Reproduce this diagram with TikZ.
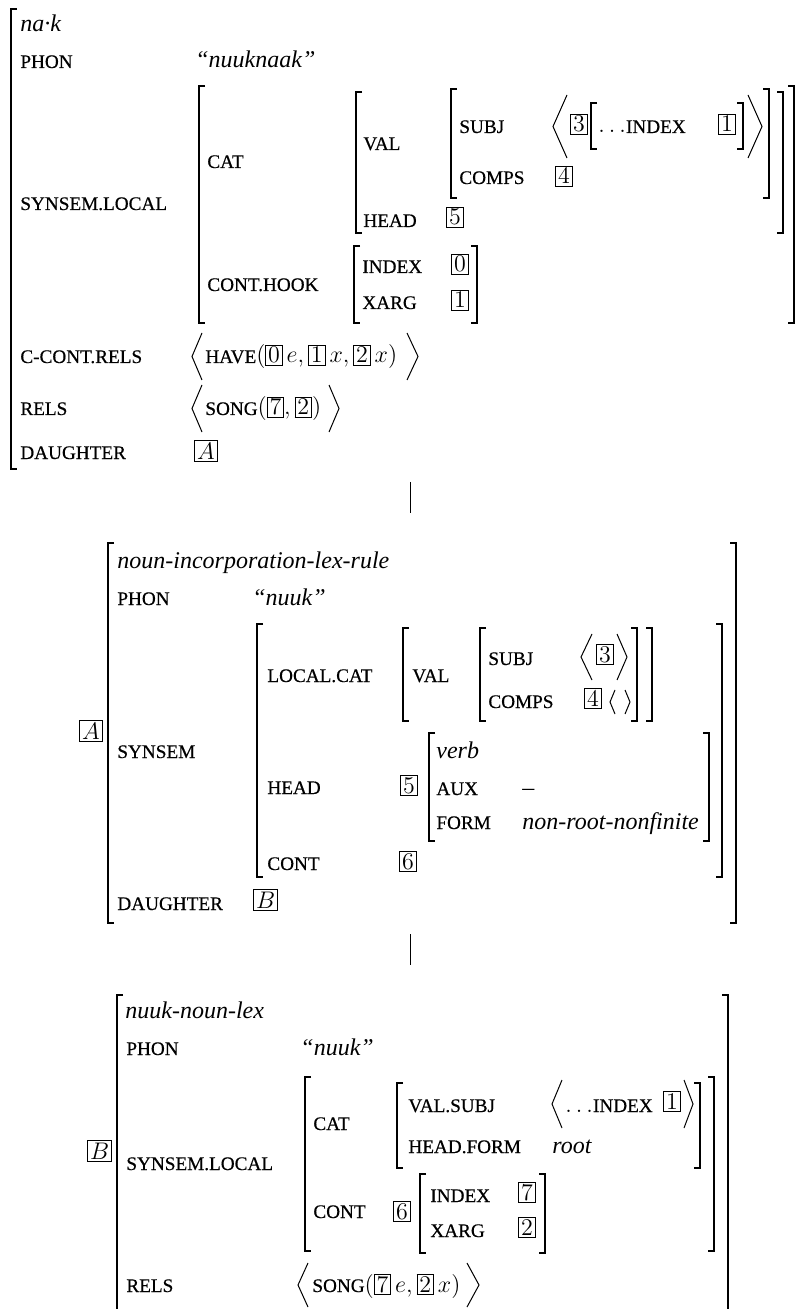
\documentclass[tikz,border=0pt]{standalone}
\usepackage[no-math]{fontspec}
\setmainfont{Liberation Serif}
\newfontfamily\lbfam{Liberation Serif}[FakeBold=0.5]
\setlength\fboxsep{1pt}\setlength\fboxrule{0.4pt}
\newcommand\lbfont{\lbfam\fontsize{9.6}{11}\selectfont}
\newcommand\lb[1]{{\lbfont #1}}
\newcommand\tg[1]{\fbox{$#1$}}
\newcommand\avmL[3]{\draw[brk] ({#1+6},#2) -- (#1,#2) -- (#1,#3) -- ({#1+6},#3);}
\newcommand\avmR[3]{\draw[brk] ({#1-6},#2) -- (#1,#2) -- (#1,#3) -- ({#1-6},#3);}
\newcommand\angl[4]{\draw[ang] (#2,#3) -- (#1,{(#3+#4)/2}) -- (#2,#4);}
\tikzset{
  brk/.style={line width=0.9pt},
  ang/.style={line width=0.5pt},
  conn/.style={line width=0.5pt},
  txt/.style={anchor=base west, inner sep=0pt, font=\fontsize{12}{14}\selectfont},
  it/.style={txt, font=\fontsize{12}{14}\selectfont\itshape},
  lbl/.style={anchor=base west, inner sep=0pt, font=\fontsize{12}{14}\selectfont\lbfont},
  tag/.style={anchor=base west, inner sep=0pt, font=\fontsize{12}{14}\selectfont},
}
\begin{document}
\begin{tikzpicture}[x=0.5pt,y=-0.5pt]
\useasboundingbox (0,0) rectangle (796,1309);
\clip (0,0) rectangle (796,1309);
% ================= AVM 1 =================
\avmL{11}{9}{469}
\node[it] (t1) at (20,32) {na·k};
\node[lbl] (p1) at (20,68) {PHON};
\node[it] (p1v) at (195,68) {“nuuknaak”};
\node[lbl] (s1) at (20,210) {SYNSEM.LOCAL};
\avmL{199}{86}{323} \avmR{794}{86}{323}
\node[lbl] (cat1) at (207,168) {CAT};
\avmL{356}{92}{233} \avmR{783}{92}{233}
\node[lbl] (val1) at (363,150) {VAL};
\avmL{451}{89}{198} \avmR{769}{89}{198}
\node[lbl] (subj1) at (459,133) {SUBJ};
\angl{553}{567}{95}{158}
\node[tag] (t3a) at (570,132) {\tg{3}};
\avmL{591}{103}{149} \avmR{743}{103}{149}
\node[txt] (idx1) at (598,133) {$\ldots$\lb{INDEX}};
\node[tag] (t1a) at (718,132) {\tg{1}};
\angl{762}{748}{95}{158}
\node[lbl] (comps1) at (459,184) {COMPS};
\node[tag] (t4a) at (555,184) {\tg{4}};
\node[lbl] (head1) at (363,227) {HEAD};
\node[tag] (t5a) at (446,225) {\tg{5}};
\node[lbl] (ch1) at (207,291) {CONT.HOOK};
\avmL{354}{246}{323} \avmR{477}{246}{323}
\node[lbl] (in1) at (362,273) {INDEX};
\node[tag] (t0a) at (451,272) {\tg{0}};
\node[lbl] (xa1) at (362,309) {XARG};
\node[tag] (t1b) at (451,308) {\tg{1}};
\node[lbl] (cc1) at (20,363) {C-CONT.RELS};
\angl{192}{202}{333}{380}
\node[txt] (have) at (205,363) {\lb{HAVE}$\big(\tg{0}\,e, \tg{1}\,x, \tg{2}\,x\big)$};
\angl{418}{407}{333}{380}
\node[lbl] (r1) at (20,415) {RELS};
\angl{192}{202}{385}{432}
\node[txt] (song1) at (205,415) {\lb{SONG}$\big(\tg{7}, \tg{2}\big)$};
\angl{339}{329}{385}{432}
\node[lbl] (d1) at (20,459) {DAUGHTER};
\node[tag] (tA1) at (194,459) {\tg{A}};
% connector 1
\coordinate (c1a) at (410,482);
\coordinate (c1b) at (410,513);
\draw[conn] (c1a) -- (c1b);
% ================= AVM 2 =================
\node[tag] (tA2) at (79,739) {\tg{A}};
\avmL{108}{543}{923} \avmR{736}{543}{923}
\node[it] (t2) at (117,568) {noun-incorporation-lex-rule};
\node[lbl] (p2) at (117,605) {PHON};
\node[it] (p2v) at (252,605) {“nuuk”};
\node[lbl] (s2) at (117,758) {SYNSEM};
\avmL{257}{624}{877} \avmR{722}{624}{877}
\node[lbl] (lc2) at (267,682) {LOCAL.CAT};
\avmL{403}{628}{721} \avmR{652}{628}{721}
\node[lbl] (val2) at (412,682) {VAL};
\avmL{480}{628}{721} \avmR{637}{628}{721}
\node[lbl] (subj2) at (488,665) {SUBJ};
\angl{581}{592}{634}{680}
\node[tag] (t3b) at (596,662) {\tg{3}};
\angl{627}{617}{634}{680}
\node[lbl] (comps2) at (488,708) {COMPS};
\node[tag] (t4b) at (584,706) {\tg{4}};
\angl{610}{615}{690}{714}
\angl{630}{625}{690}{714}
\node[lbl] (head2) at (267,794) {HEAD};
\node[tag] (t5b) at (400,793) {\tg{5}};
\avmL{429}{733}{841} \avmR{709}{733}{841}
\node[it] (verb) at (436,758) {verb};
\node[lbl] (aux) at (436,795) {AUX};
\node[txt] (auxv) at (522,795) {–};
\node[lbl] (form) at (436,829) {FORM};
\node[it] (formv) at (522,829) {non-root-nonfinite};
\node[lbl] (cont2) at (267,870) {CONT};
\node[tag] (t6b) at (399,869) {\tg{6}};
\node[lbl] (d2) at (117,910) {DAUGHTER};
\node[tag] (tB2) at (253,908) {\tg{B}};
% connector 2
\coordinate (c2a) at (410,934);
\coordinate (c2b) at (410,965);
\draw[conn] (c2a) -- (c2b);
% ================= AVM 3 =================
\node[tag] (tB3) at (87,1159) {\tg{B}};
\avmL{117}{995}{1330} \avmR{728}{995}{1330}
\node[it] (t3) at (125,1018) {nuuk-noun-lex};
\node[lbl] (p3) at (126,1055) {PHON};
\node[it] (p3v) at (300,1055) {“nuuk”};
\node[lbl] (s3) at (126,1170) {SYNSEM.LOCAL};
\avmL{305}{1077}{1251} \avmR{714}{1077}{1251}
\node[lbl] (cat3) at (313,1130) {CAT};
\avmL{397}{1083}{1168} \avmR{700}{1083}{1168}
\node[lbl] (vs3) at (408,1112) {VAL.SUBJ};
\angl{552}{562}{1080}{1128}
\node[txt] (idx3) at (565,1112) {$\ldots$\lb{INDEX}};
\node[tag] (t1c) at (663,1109) {\tg{1}};
\angl{693}{684}{1080}{1128}
\node[lbl] (hf3) at (408,1153) {HEAD.FORM};
\node[it] (root) at (552,1153) {root};
\node[lbl] (cont3) at (313,1218) {CONT};
\node[tag] (t6c) at (393,1219) {\tg{6}};
\avmL{420}{1174}{1253} \avmR{545}{1174}{1253}
\node[lbl] (in3) at (430,1202) {INDEX};
\node[tag] (t7c) at (518,1200) {\tg{7}};
\node[lbl] (xa3) at (430,1237) {XARG};
\node[tag] (t2c) at (518,1235) {\tg{2}};
\node[lbl] (r3) at (126,1292) {RELS};
\angl{298}{308}{1263}{1307}
\node[txt] (song3) at (312,1292) {\lb{SONG}$\big(\tg{7}\,e, \tg{2}\,x\big)$};
\angl{479}{467}{1263}{1307}
\end{tikzpicture}
\end{document}
